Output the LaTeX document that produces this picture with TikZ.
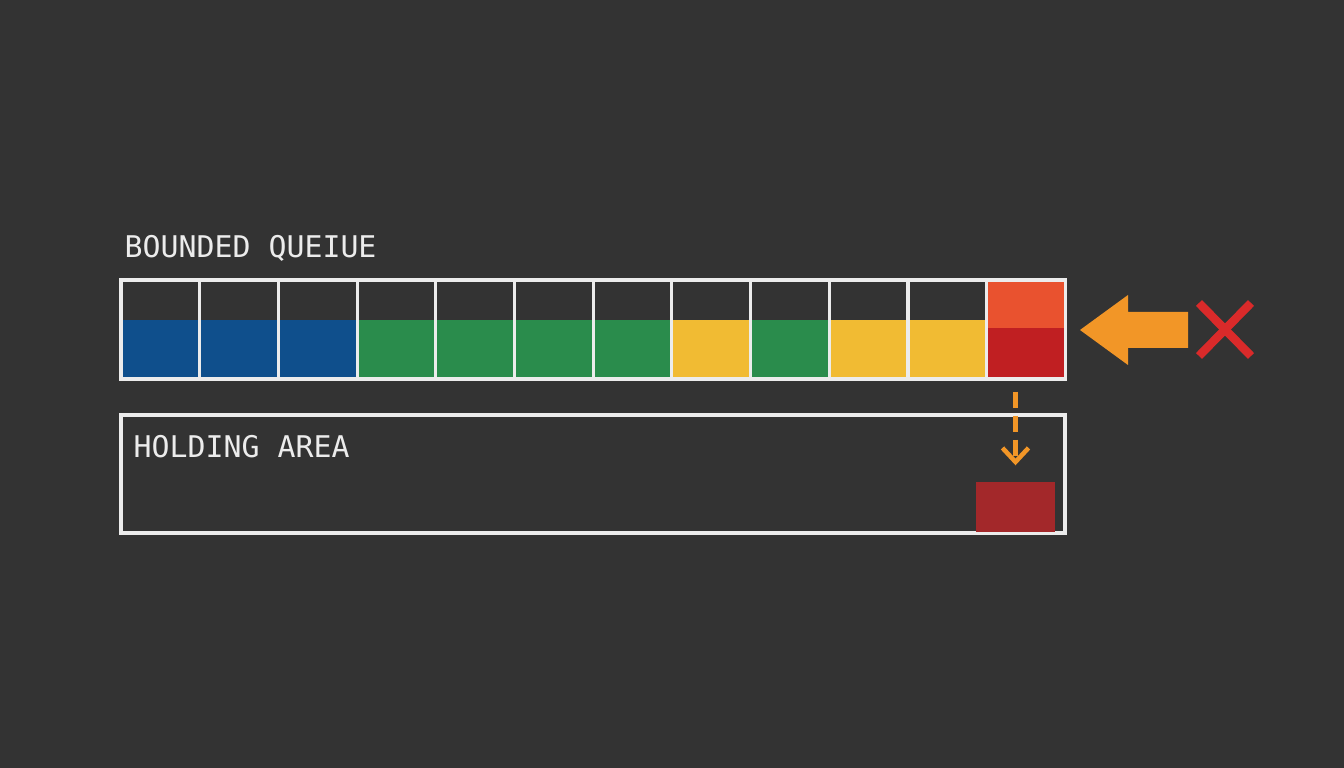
\documentclass[tikz,border=0pt]{standalone}
\usepackage{fontspec}
\setmonofont{DejaVu Sans Mono}
\usetikzlibrary{arrows.meta}

\definecolor{bgdark}{HTML}{333333}
\definecolor{edgewhite}{HTML}{ECECEC}
\definecolor{qblue}{HTML}{0F4F8C}
\definecolor{qgreen}{HTML}{2A8C4C}
\definecolor{qyellow}{HTML}{F1BB33}
\definecolor{qorange}{HTML}{E9522F}
\definecolor{qred}{HTML}{C01F22}
\definecolor{heldred}{HTML}{A3282A}
\definecolor{arroworange}{HTML}{F29627}
\definecolor{crossred}{HTML}{DA2A2A}

\tikzset{
  cell/.style={draw=edgewhite, line width=0.9pt, minimum width=0.787cm, minimum height=0.99cm, inner sep=0pt},
  label text/.style={text=edgewhite, font=\ttfamily\fontsize{8.5}{10}\selectfont, anchor=base west, inner sep=0pt},
  drop arrow/.style={draw=arroworange, line width=1.3pt, dash pattern=on 0.16cm off 0.08cm, -{Straight Barb[length=0.14cm, width=0.26cm]}}
}

\begin{document}
\begin{tikzpicture}
			\fill[bgdark] (0,0) rectangle (13.44,7.68);
			\useasboundingbox (0,0) rectangle (13.44,7.68);
			% queue fills
			\foreach \i/\c in {1/qblue,2/qblue,3/qblue,4/qgreen,5/qgreen,6/qgreen,7/qgreen,8/qyellow,9/qgreen,10/qyellow,11/qyellow} {
				\fill[\c] ({1.21+(\i-1)*0.787},3.9) rectangle ({1.21+\i*0.787},4.48);
			}
			\fill[qorange] ({1.21+11*0.787},4.4) rectangle (10.65,4.87);
			\fill[qred] ({1.21+11*0.787},3.9) rectangle (10.65,4.4);
			% queue cells
			\foreach \i in {1,...,12} {
				\node[cell] (c\i) at ({1.21+(\i-0.5)*0.787},4.385) {};
			}
			% holding area
			\node[draw=edgewhite, line width=0.9pt, minimum width=9.44cm, minimum height=1.18cm, inner sep=0pt] (hold) at (5.93,2.94) {};
			\node[fill=heldred, minimum width=0.79cm, minimum height=0.5cm, inner sep=0pt] (held) at (10.155,2.61) {};
			% labels
			\node[label text] (qlabel) at (1.24,5.1) {BOUNDED QUEIUE};
			\node[label text] (hlabel) at (1.33,3.1) {HOLDING AREA};
			% rejected arrow and cross
			\fill[arroworange] (10.8,4.38) -- (11.28,4.73) -- (11.28,4.56) -- (11.88,4.56) -- (11.88,4.2) -- (11.28,4.2) -- (11.28,4.03) -- cycle;
			\draw[crossred, line width=2.4pt] (11.99,4.65) -- (12.51,4.12);
			\draw[crossred, line width=2.4pt] (11.99,4.12) -- (12.51,4.65);
			% drop into holding area
			\draw[drop arrow] ([yshift=-0.11cm]c12.south -| held.north) -- ([yshift=0.16cm]held.north);
		\end{tikzpicture}
\end{document}
